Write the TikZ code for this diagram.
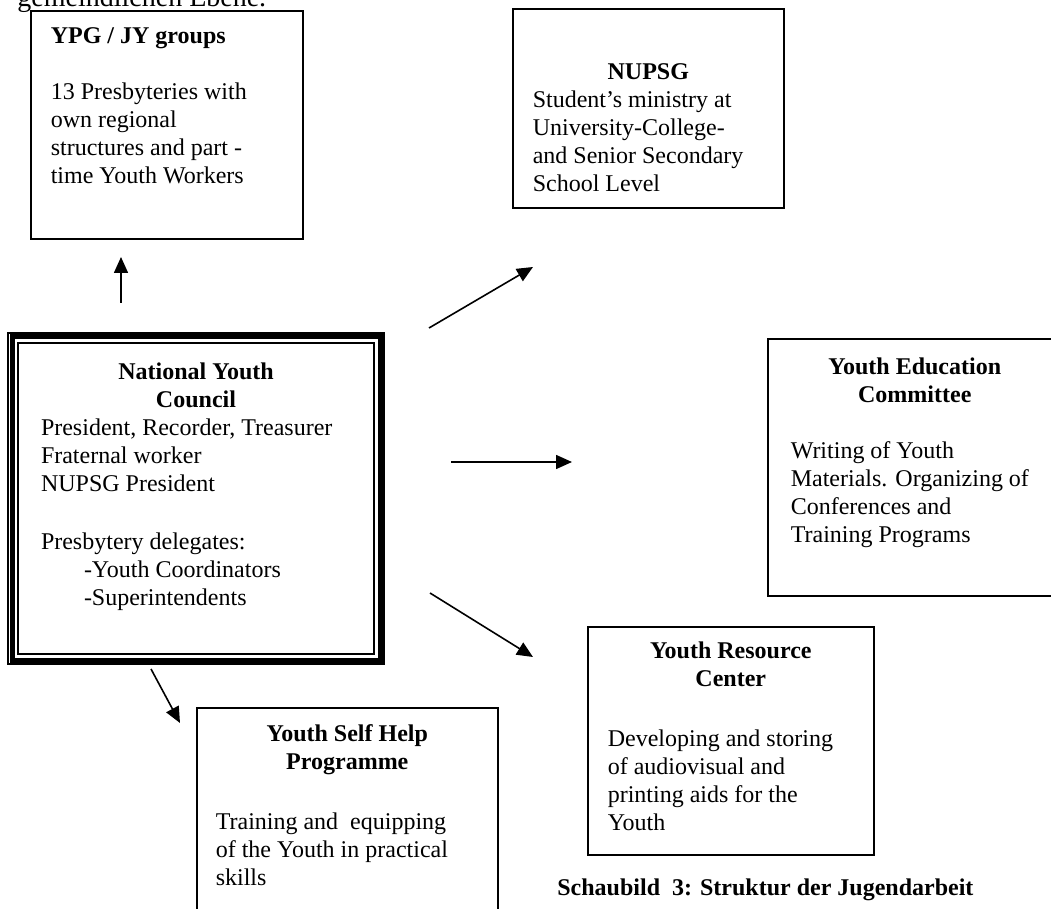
\documentclass[tikz,border=0pt]{standalone}
\usepackage{fontspec}
\setmainfont{Liberation Serif}
\usetikzlibrary{arrows.meta}
\tikzset{>={Triangle[length=8pt,width=7pt]}}
\tikzset{
  unitbox/.style={draw, line width=0.8pt, anchor=north west, inner xsep=10pt, inner ysep=0pt, font=\fontsize{12}{14}\selectfont},
  link/.style={->, line width=0.8pt},
}

\begin{document}
\begin{tikzpicture}[x=0.5pt, y=-0.5pt]
    \clip (0,0) rectangle (1051,909);
    % running text of the page, cut at the top
    \node[anchor=base west, inner sep=0pt, font=\fontsize{14}{16}\selectfont] (pagetext) at (17,7) {gemeindlichen Ebene.};
    % units
    \node[unitbox] (ypg) at (30,10) {\parbox[t][114pt][t]{116pt}{\raggedright
        \rule{0pt}{16.5pt}\textbf{YPG / JY groups}\\[14pt]
        13 Presbyteries with\\own regional\\structures and part -\\time Youth Workers}};
    \node[unitbox] (nupsg) at (512,8) {\parbox[t][99.5pt][t]{115.5pt}{%
        {\centering\bfseries\rule{0pt}{35.5pt}NUPSG\par}\raggedright
        Student's ministry at\\University-College-\\and Senior Secondary\\School Level}};
    \node[unitbox, line width=1pt, inner xsep=16.5pt] (nyc) at (7,332) {\parbox[t][165.5pt][t]{155pt}{%
        {\centering\bfseries\rule{0pt}{23.5pt}National Youth\\Council\par}\raggedright
        President, Recorder, Treasurer\\Fraternal worker\\NUPSG President\\[15pt]
        Presbytery delegates:\\\hspace*{21.5pt}-Youth Coordinators\\\hspace*{21.5pt}-Superintendents}};
    \draw[line width=2.5pt] ([shift={(2.5pt,-2.5pt)}]nyc.north west) rectangle ([shift={(-2.5pt,2.5pt)}]nyc.south east);
    \draw[line width=1pt] ([shift={(5.5pt,-5.5pt)}]nyc.north west) rectangle ([shift={(-5.5pt,5.5pt)}]nyc.south east);
    \node[unitbox, inner xsep=11.5pt] (yec) at (767,338) {\parbox[t][128.5pt][t]{124pt}{%
        {\centering\bfseries\rule{0pt}{18pt}Youth Education\\Committee\par}\vspace{14pt}\raggedright
        Writing of Youth\\Materials. Organizing of\\Conferences and\\Training Programs}};
    \node[unitbox] (yrc) at (587,626) {\parbox[t][114pt][t]{123pt}{%
        {\centering\bfseries\rule{0pt}{16pt}Youth Resource\\Center\par}\vspace{16pt}\raggedright
        Developing and storing\\of audiovisual and\\printing aids for the\\Youth}};
    \node[unitbox, inner xsep=9.5pt] (yshp) at (196,707) {\parbox[t][110pt][t]{131.5pt}{%
        {\centering\bfseries\rule{0pt}{17pt}Youth Self Help\\Programme\par}\vspace{16pt}\raggedright
        Training and\ \ equipping\\of the Youth in practical\\skills}};
    \node[anchor=base west, inner sep=0pt, font=\fontsize{12}{14}\selectfont\bfseries] (caption) at (557,895) {Schaubild\ \ 3: Struktur der Jugendarbeit};
    % arrows
    \coordinate (ypgFrom) at (121,303);
    \coordinate (ypgTo) at (121,257);
    \coordinate (nupsgFrom) at (429,328);
    \coordinate (nupsgTo) at (533,267);
    \coordinate (yecFrom) at (451,462);
    \coordinate (yecTo) at (572,462);
    \coordinate (yrcFrom) at (430,593);
    \coordinate (yrcTo) at (533,657);
    \coordinate (yshpFrom) at (151,669);
    \coordinate (yshpTo) at (180,723);
    \draw[link] (ypgFrom) -- (ypgTo);
    \draw[link] (nupsgFrom) -- (nupsgTo);
    \draw[link] (yecFrom) -- (yecTo);
    \draw[link] (yrcFrom) -- (yrcTo);
    \draw[link] (yshpFrom) -- (yshpTo);
\end{tikzpicture}
\end{document}
